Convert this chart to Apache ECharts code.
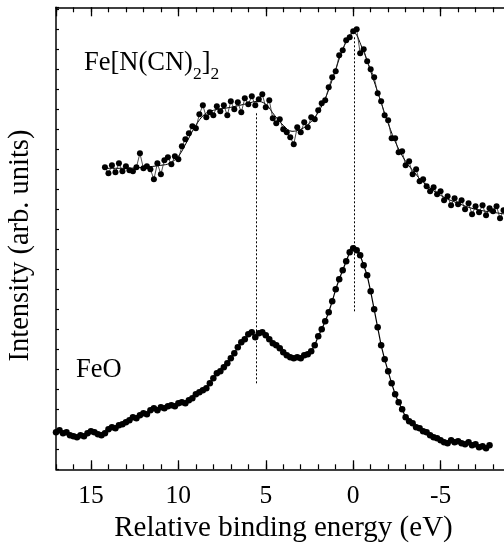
<!DOCTYPE html>
<html><head><meta charset="utf-8">
<script src="https://cdn.jsdelivr.net/npm/echarts@6/dist/echarts.min.js"></script>
<style>html,body{margin:0;padding:0;background:#fff}#c{width:504px;height:548px}</style>
</head><body><div id="c"></div>
<script>
// Fe[N(CN)2]2 spectrum (relative binding energy in eV, intensity arb. units)
const energyFe = [14.2,14.0,13.8,13.6,13.4,13.2,13.0,12.8,12.6,12.4,
  12.2,12.0,11.8,11.6,11.4,11.2,11.0,10.8,10.6,10.4,
  10.2,10.0,9.8,9.6,9.4,9.2,9.0,8.8,8.6,8.4,
  8.2,8.0,7.8,7.6,7.4,7.2,7.0,6.8,6.6,6.4,
  6.2,6.0,5.8,5.6,5.4,5.2,5.0,4.8,4.6,4.4,
  4.2,4.0,3.8,3.6,3.4,3.2,3.0,2.8,2.6,2.4,
  2.2,2.0,1.8,1.6,1.4,1.2,1.0,0.8,0.6,0.4,
  0.2,0.0,-0.2,-0.4,-0.6,-0.8,-1.0,-1.2,-1.4,-1.6,
  -1.8,-2.0,-2.2,-2.4,-2.6,-2.8,-3.0,-3.2,-3.4,-3.6,
  -3.8,-4.0,-4.2,-4.4,-4.6,-4.8,-5.0,-5.2,-5.4,-5.6,
  -5.8,-6.0,-6.2,-6.4,-6.6,-6.8,-7.0,-7.2,-7.4,-7.6,
  -7.8,-8.0,-8.2,-8.4,-8.6,-8.8];
const intensityFe = [15.1,14.8,15.2,14.85,15.3,14.9,15.15,14.95,14.9,15.1,
  15.8,15.05,15.15,15.0,14.5,15.3,14.75,15.45,15.6,15.25,
  15.65,15.5,16.15,16.5,16.8,17.15,17.05,17.75,18.2,17.6,
  17.85,17.7,18.15,17.9,18.2,17.7,18.4,18.0,18.35,17.85,
  18.55,18.25,18.65,18.2,18.5,18.75,18.1,18.45,17.55,17.3,
  17.5,17.0,16.85,16.6,16.25,17.1,16.85,17.35,17.1,17.6,
  17.5,17.95,18.3,18.45,19.1,19.6,19.9,20.7,20.95,21.45,
  21.6,21.9,22.0,20.8,21.0,20.4,20.0,19.6,18.8,18.4,
  17.7,17.45,16.55,16.55,15.85,15.9,15.2,15.4,14.75,15.0,
  14.4,14.5,14.15,13.9,14.1,13.75,13.9,13.45,13.65,13.2,
  13.55,13.25,13.45,13.0,13.3,12.75,13.15,12.85,13.2,12.7,
  13.05,12.9,13.15,12.55,12.95,12.7];
// smooth guide curve through the Fe[N(CN)2]2 data
const fitEnergy = [14.2,13,12,11,10.5,10,9.5,9,8.5,8,7,6,5.5,5,4.5,4,3.5,3,2.5,2,1.5,1,0.5,0,-0.5,-1,-1.5,-2,-2.5,-3,-3.5,-4,-5,-6,-7,-8,-8.8];
const fitIntensity = [15.05,15.05,15.1,15.2,15.3,15.65,16.4,17.2,17.75,17.95,18.1,18.3,18.4,18.25,17.7,17.2,16.9,17.0,17.3,17.85,18.75,20.0,21.2,21.85,21.1,19.9,18.6,17.3,16.2,15.4,14.85,14.35,13.7,13.3,13.0,12.85,12.75];
// FeO spectrum
const energyFeO = [17.0,16.8,16.6,16.4,16.2,16.0,15.8,15.6,15.4,15.2,
  15.0,14.8,14.6,14.4,14.2,14.0,13.8,13.6,13.4,13.2,
  13.0,12.8,12.6,12.4,12.2,12.0,11.8,11.6,11.4,11.2,
  11.0,10.8,10.6,10.4,10.2,10.0,9.8,9.6,9.4,9.2,
  9.0,8.8,8.6,8.4,8.2,8.0,7.8,7.6,7.4,7.2,
  7.0,6.8,6.6,6.4,6.2,6.0,5.8,5.6,5.4,5.2,
  5.0,4.8,4.6,4.4,4.2,4.0,3.8,3.6,3.4,3.2,
  3.0,2.8,2.6,2.4,2.2,2.0,1.8,1.6,1.4,1.2,
  1.0,0.8,0.6,0.4,0.2,0.0,-0.2,-0.4,-0.6,-0.8,
  -1.0,-1.2,-1.4,-1.6,-1.8,-2.0,-2.2,-2.4,-2.6,-2.8,
  -3.0,-3.2,-3.4,-3.6,-3.8,-4.0,-4.2,-4.4,-4.6,-4.8,
  -5.0,-5.2,-5.4,-5.6,-5.8,-6.0,-6.2,-6.4,-6.6,-6.8,
  -7.0,-7.2,-7.4,-7.6,-7.8];
const intensityFeO = [1.85,1.95,1.8,1.85,1.7,1.65,1.6,1.7,1.65,1.8,
  1.9,1.85,1.75,1.7,1.8,2.0,2.1,2.05,2.2,2.25,
  2.35,2.45,2.6,2.55,2.7,2.8,2.75,2.95,3.05,2.95,
  3.1,3.05,3.15,3.2,3.15,3.3,3.35,3.3,3.45,3.55,
  3.75,3.85,3.95,4.05,4.3,4.55,4.8,4.9,5.1,5.3,
  5.55,5.8,6.1,6.35,6.5,6.75,6.85,6.6,6.8,6.85,
  6.7,6.5,6.3,6.2,6.05,5.85,5.7,5.6,5.55,5.6,
  5.55,5.7,5.75,5.9,6.2,6.65,7.0,7.4,7.85,8.4,
  9.0,9.5,9.95,10.4,10.85,11.05,10.95,10.7,10.2,9.7,
  8.9,8.0,7.1,6.2,5.5,4.9,4.3,3.75,3.35,3.0,
  2.6,2.4,2.3,2.1,2.05,1.9,1.85,1.7,1.6,1.55,
  1.45,1.35,1.3,1.45,1.35,1.4,1.3,1.25,1.35,1.2,
  1.25,1.1,1.15,1.05,1.2];
// dotted peak markers: energy, lower intensity, upper intensity
const peakLineEnergy = [5.55, -0.05];
const peakLineLow = [4.3, 7.9];
const peakLineHigh = [17.8, 21.6];
const xTickLabels = ['15','10','5','0','-5'];
const xTitle = 'Relative binding energy (eV)';
const yTitle = 'Intensity (arb. units)';

const FONT = 'Liberation Serif';
const zip = (a, b) => a.map((v, i) => [v, b[i]]);
const chart = echarts.init(document.getElementById('c'), null, {renderer: 'canvas'});
const xRange = {min: -10, max: 17, inverse: true, type: 'value', gridIndex: 0};
const axisLineStyle = {show: true, onZero: false, lineStyle: {color: '#000', width: 1.5}};
chart.setOption({
  animation: false,
  backgroundColor: '#fff',
  grid: {left: 56, top: 7.3, width: 472, bottom: 78.7, containLabel: false, outerBoundsMode: 'none'},
  xAxis: [
    Object.assign({}, xRange, {position: 'bottom', interval: 5,
      axisLine: axisLineStyle,
      axisTick: {show: true, inside: true, length: 9, lineStyle: {color: '#000', width: 1.3}},
      axisLabel: {show: true, margin: 14, color: '#000', fontFamily: FONT, fontSize: 25.5,
        showMinLabel: false, showMaxLabel: false,
        formatter: v => xTickLabels.indexOf(String(v)) >= 0 ? String(v) : ''},
      splitLine: {show: false}}),
    Object.assign({}, xRange, {position: 'bottom', interval: 1,
      axisLine: {show: false, onZero: false},
      axisTick: {show: true, inside: true, length: 5, lineStyle: {color: '#000', width: 1.2}},
      axisLabel: {show: false}, splitLine: {show: false}}),
    Object.assign({}, xRange, {position: 'top', interval: 5,
      axisLine: axisLineStyle,
      axisTick: {show: true, inside: true, length: 9, lineStyle: {color: '#000', width: 1.3}},
      axisLabel: {show: false}, splitLine: {show: false}}),
    Object.assign({}, xRange, {position: 'top', interval: 1,
      axisLine: {show: false, onZero: false},
      axisTick: {show: true, inside: true, length: 5, lineStyle: {color: '#000', width: 1.2}},
      axisLabel: {show: false}, splitLine: {show: false}})
  ],
  yAxis: [
    {type: 'value', min: 0, max: 23.1, interval: 1, position: 'left',
      axisLine: axisLineStyle,
      axisTick: {show: true, inside: true, length: 3, lineStyle: {color: '#000', width: 1.2}},
      axisLabel: {show: false}, splitLine: {show: false}},
    {type: 'value', min: 0, max: 23.1, interval: 1, position: 'right',
      axisLine: axisLineStyle,
      axisTick: {show: true, inside: true, length: 3},
      axisLabel: {show: false}, splitLine: {show: false}}
  ],
  graphic: [
    {type: 'text', x: 283.5, y: 528, z: 100,
      style: {text: xTitle, fontSize: 29, fontFamily: FONT, fill: '#000', align: 'center', verticalAlign: 'middle'}},
    {type: 'text', x: 21, y: 245.5, rotation: Math.PI / 2, z: 100,
      style: {text: yTitle, fontSize: 28.5, fontFamily: FONT, fill: '#000', align: 'center', verticalAlign: 'middle'}},
    {type: 'text', left: 84, top: 50, z: 100,
      style: {text: '{m|Fe[N(CN)}{s|2}{m|]}{s|2}',
        rich: {m: {fontSize: 26.5, fontFamily: FONT, fill: '#000', verticalAlign: 'top', lineHeight: 26},
               s: {fontSize: 17.5, fontFamily: FONT, fill: '#000', verticalAlign: 'top', lineHeight: 18, padding: [15, 0, 0, 0]}}}},
    {type: 'text', left: 76, top: 357, z: 100,
      style: {text: 'FeO', fontSize: 26.5, fontFamily: FONT, fill: '#000'}}
  ],
  series: [
    {type: 'line', name: 'fit', xAxisIndex: 0, yAxisIndex: 0, data: zip(fitEnergy, fitIntensity),
      smooth: 0.4, showSymbol: false, symbol: 'none', lineStyle: {color: '#000', width: 1}, z: 2},
    {type: 'line', name: 'Fe[N(CN)2]2', xAxisIndex: 0, yAxisIndex: 0, data: zip(energyFe, intensityFe),
      symbol: 'circle', symbolSize: 6, showAllSymbol: true, itemStyle: {color: '#000'},
      lineStyle: {color: '#222', width: 0.8}, z: 3},
    {type: 'line', name: 'FeO', xAxisIndex: 0, yAxisIndex: 0, data: zip(energyFeO, intensityFeO),
      symbol: 'circle', symbolSize: 6.5, showAllSymbol: true, itemStyle: {color: '#000'},
      lineStyle: {color: '#000', width: 1.2}, z: 3,
      markLine: {silent: true, symbol: ['none', 'none'], animation: false,
        label: {show: false},
        lineStyle: {color: '#000', width: 1, type: [2, 2]},
        data: peakLineEnergy.map((e, i) => [{coord: [e, peakLineLow[i]]}, {coord: [e, peakLineHigh[i]]}])}}
  ]
});
</script></body></html>
